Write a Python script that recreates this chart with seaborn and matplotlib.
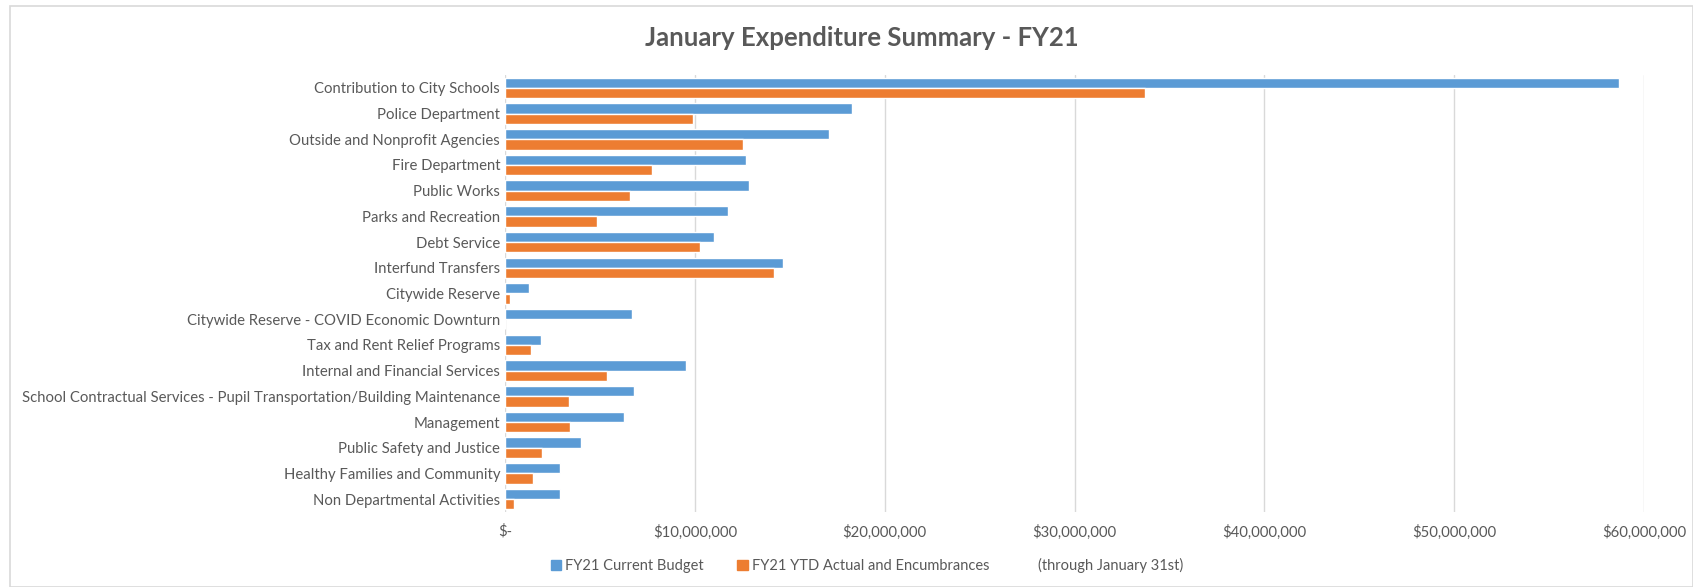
import pandas as pd
import numpy as np
import matplotlib.pyplot as plt
import seaborn as sns
from matplotlib.patches import Patch, Rectangle
from matplotlib.ticker import FuncFormatter

###############################################################
# values (in $ millions)

categories = [
    "Contribution to City Schools",
    "Police Department",
    "Outside and Nonprofit Agencies",
    "Fire Department",
    "Public Works",
    "Parks and Recreation",
    "Debt Service",
    "Interfund Transfers",
    "Citywide Reserve",
    "Citywide Reserve - COVID Economic Downturn",
    "Tax and Rent Relief Programs",
    "Internal and Financial Services",
    "School Contractual Services - Pupil Transportation/Building Maintenance",
    "Management",
    "Public Safety and Justice",
    "Healthy Families and Community",
    "Non Departmental Activities",
]
budget = [58.7, 18.26, 17.05, 12.68, 12.84, 11.74, 11.01, 14.64, 1.26, 6.68,
          1.89, 9.53, 6.79, 6.26, 4.0, 2.89, 2.89]
actual = [33.7, 9.9, 12.52, 7.73, 6.58, 4.85, 10.27, 14.15, 0.26, 0.0,
          1.37, 5.37, 3.37, 3.42, 1.95, 1.47, 0.47]
series = ["FY21 Current Budget", "FY21 YTD Actual and Encumbrances"]
xticks = [0, 10e6, 20e6, 30e6, 40e6, 50e6, 60e6]

df = pd.DataFrame({
    "Category": categories * 2,
    "Series": [series[0]] * len(categories) + [series[1]] * len(categories),
    "Amount": [v * 1e6 for v in budget] + [v * 1e6 for v in actual],
})

###############################################################
# plot

sns.set_style("white")
plt.rcParams['font.family'] = ['Lato', 'DejaVu Sans']
gray = '#595959'

fig = plt.figure(figsize=(16.93, 5.87), dpi=100)
ax = fig.add_axes([0.2983, 0.1278, 0.9711 - 0.2983, 0.8722 - 0.1278])

colors = ['#5B9BD5', '#ED7D31']
sns.barplot(data=df, y='Category', x='Amount', hue='Series', palette=colors,
            orient='h', width=0.8, ax=ax, legend=False, saturation=1)

ax.set_xlim(0, 60e6)
ax.set_xticks(xticks)
ax.xaxis.set_major_formatter(FuncFormatter(lambda v, p: "$-" if v == 0 else f"${v:,.0f}"))
ax.grid(axis='x', color='#D9D9D9', linewidth=1)
ax.set_axisbelow(True)
sns.despine(ax=ax, left=True, bottom=True)
ax.tick_params(axis='both', length=0, colors=gray, labelsize=10.7)
ax.tick_params(axis='x', pad=9)
ax.set_xlabel('')
ax.set_ylabel('')

fig.text(0.509, 0.935, "January Expenditure Summary - FY21", ha='center', va='center',
         fontsize=18.5, fontweight='bold', color=gray)

handles = [Patch(color=colors[0], label=series[0]),
           Patch(color=colors[1], label=series[1]),
           Patch(color='none', label="(through January 31st)")]
leg = fig.legend(handles=handles, loc='center', bbox_to_anchor=(0.512, 0.036), ncol=3,
                 frameon=False, fontsize=10.5, handlelength=0.7, handleheight=0.7,
                 handletextpad=0.3, columnspacing=2.3)
for t in leg.get_texts():
    t.set_color(gray)

# chart frame
fig.patches.append(Rectangle((0.006, 0.0), 0.994, 0.99, transform=fig.transFigure,
                             fill=False, edgecolor='#D9D9D9', linewidth=1.2))

plt.savefig("out.png", dpi=100)
